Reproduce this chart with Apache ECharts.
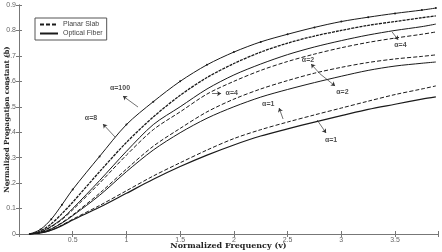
<!DOCTYPE html>
<html>
<head>
<meta charset="utf-8">
<script src="https://cdn.jsdelivr.net/npm/echarts@6/dist/echarts.min.js"></script>
<style>
  html, body { margin: 0; padding: 0; background: #fff; }
  #chart { width: 442px; height: 252px; }
</style>
</head>
<body>
<div id="chart"></div>
<script>
// normalized frequency v
const freq = [0.1, 0.2, 0.3, 0.4, 0.5, 0.75, 1.0, 1.25, 1.5, 1.75, 2.0, 2.25, 2.5, 2.75, 3.0, 3.25, 3.5, 3.75, 3.88];

// normalized propagation constant b
const alpha100 = [0, 0.018, 0.058, 0.115, 0.175, 0.305, 0.43, 0.52, 0.6, 0.665, 0.715, 0.755, 0.785, 0.812, 0.835, 0.852, 0.867, 0.88, 0.888];
const alpha8 = [0, 0.012, 0.04, 0.08, 0.125, 0.245, 0.36, 0.46, 0.545, 0.615, 0.67, 0.715, 0.75, 0.778, 0.8, 0.82, 0.835, 0.85, 0.857];
const alpha4Fiber = [0, 0.008, 0.03, 0.06, 0.1, 0.21, 0.325, 0.43, 0.5, 0.57, 0.625, 0.668, 0.705, 0.735, 0.76, 0.782, 0.8, 0.815, 0.825];
const alpha4Slab = [0, 0.007, 0.028, 0.057, 0.095, 0.2, 0.31, 0.41, 0.48, 0.55, 0.6, 0.643, 0.678, 0.707, 0.732, 0.753, 0.77, 0.785, 0.794];
const alpha2Slab = [0, 0.005, 0.02, 0.045, 0.075, 0.16, 0.255, 0.345, 0.415, 0.48, 0.53, 0.57, 0.603, 0.632, 0.655, 0.674, 0.688, 0.698, 0.704];
const alpha2Fiber = [0, 0.005, 0.02, 0.043, 0.072, 0.152, 0.245, 0.33, 0.398, 0.455, 0.5, 0.538, 0.568, 0.595, 0.62, 0.643, 0.66, 0.671, 0.676];
const alpha1Slab = [0, 0.004, 0.015, 0.035, 0.058, 0.112, 0.17, 0.228, 0.28, 0.33, 0.375, 0.41, 0.44, 0.468, 0.495, 0.522, 0.548, 0.57, 0.582];
const alpha1Fiber = [0, 0.004, 0.015, 0.033, 0.055, 0.105, 0.16, 0.215, 0.265, 0.31, 0.35, 0.385, 0.413, 0.44, 0.465, 0.49, 0.51, 0.53, 0.539];

// annotation labels: text, label position, arrow tail, arrow head (data coords)
const noteText = ['α=100', 'α=8', 'α=4', 'α=4', 'α=2', 'α=2', 'α=1', 'α=1'];
const notePos = [[0.94, 0.574], [0.67, 0.456], [1.98, 0.552], [3.55, 0.743], [2.69, 0.684], [3.01, 0.556], [2.32, 0.511], [2.905, 0.371]];
const arrowFrom = [[1.108, 0.499], [0.894, 0.381], [1.797, 0.552], [3.473, 0.794], [2.8, 0.63], [2.8, 0.63], [2.458, 0.452], [2.775, 0.448]];
const arrowTo = [[0.968, 0.542], [0.782, 0.432], [1.881, 0.552], [3.529, 0.763], [2.719, 0.668], [2.942, 0.582], [2.421, 0.495], [2.858, 0.397]];

const pairs = arr => freq.map((v, i) => [v, arr[i]]);

const lineSeries = (name, arr, type, extra) => Object.assign({
  name: name,
  type: 'line',
  data: pairs(arr),
  smooth: 0.3,
  symbol: 'none',
  itemStyle: { color: '#1a1a1a' },
  lineStyle: { color: '#1a1a1a', width: 1, type: type },
  silent: true,
  z: 3
}, extra || {});

const chart = echarts.init(document.getElementById('chart'));

const tickLabel = { color: '#666', fontSize: 7, fontFamily: 'Arial, Liberation Sans, sans-serif' };

const option = {
  animation: false,
  backgroundColor: '#fff',
  grid: { left: 19, right: 4, top: 5, bottom: 18, containLabel: false, outerBoundsMode: 'none' },
  legend: {
    orient: 'vertical',
    left: 35,
    top: 18,
    backgroundColor: '#fff',
    borderColor: '#555',
    borderWidth: 1,
    borderRadius: 0,
    padding: [3, 4, 3, 4],
    itemGap: 2,
    itemWidth: 18,
    itemHeight: 6,
    itemStyle: { opacity: 0 },
    textStyle: { color: '#444', fontSize: 7, fontFamily: 'Arial, Liberation Sans, sans-serif' },
    data: ['Planar Slab', 'Optical Fiber']
  },
  xAxis: [{
    type: 'value',
    min: 0,
    max: 3.9,
    interval: 0.5,
    name: 'Normalized Frequency (v)',
    nameLocation: 'middle',
    nameGap: 8,
    nameMoveOverlap: false,
    nameTextStyle: { fontFamily: 'DejaVu Serif, Liberation Serif, serif', fontWeight: 'bold', fontSize: 8, color: '#222' },
    axisLine: { lineStyle: { color: '#777' } },
    axisTick: { inside: true, length: 3, lineStyle: { color: '#777' } },
    axisLabel: Object.assign({ margin: 3, formatter: v => (v === 0 || Math.abs(v * 2 - Math.round(v * 2)) > 1e-6) ? '' : String(v) }, tickLabel),
    splitLine: { show: false }
  }, {
    type: 'value',
    position: 'top',
    min: 0,
    max: 3.9,
    interval: 0.5,
    axisLine: { show: true, lineStyle: { color: '#777' } },
    axisTick: { inside: true, length: 3, lineStyle: { color: '#777' } },
    axisLabel: { show: false },
    splitLine: { show: false }
  }],
  yAxis: [{
    type: 'value',
    min: 0,
    max: 0.9,
    interval: 0.1,
    name: 'Normalized Propagation constant (b)',
    nameLocation: 'middle',
    nameGap: 8,
    nameMoveOverlap: false,
    nameTextStyle: { fontFamily: 'DejaVu Serif, Liberation Serif, serif', fontWeight: 'bold', fontSize: 7, color: '#222' },
    axisLine: { show: true, lineStyle: { color: '#777' } },
    axisTick: { show: true, inside: true, length: 3, lineStyle: { color: '#777' } },
    axisLabel: Object.assign({ margin: 3, formatter: v => v === 0 ? '0' : v.toFixed(1) }, tickLabel),
    splitLine: { show: false }
  }, {
    type: 'value',
    position: 'right',
    min: 0,
    max: 0.9,
    interval: 0.1,
    axisLine: { show: true, lineStyle: { color: '#777' } },
    axisTick: { show: true, inside: true, length: 3, lineStyle: { color: '#777' } },
    axisLabel: { show: false },
    splitLine: { show: false }
  }],
  series: [
    lineSeries('Planar Slab', alpha4Slab, [4, 2]),
    lineSeries('Optical Fiber', alpha4Fiber, 'solid'),
    lineSeries('α=100', alpha100, 'solid', {
      symbol: 'circle', symbolSize: 2, showSymbol: true
    }),
    lineSeries('α=8', alpha8, [3, 1], { lineStyle: { color: '#1a1a1a', width: 1.3, type: [3, 1] } }),
    lineSeries('α=2 slab', alpha2Slab, [4, 2]),
    lineSeries('α=2 fiber', alpha2Fiber, 'solid'),
    lineSeries('α=1 slab', alpha1Slab, [4, 2]),
    lineSeries('α=1 fiber', alpha1Fiber, 'solid', { lineStyle: { color: '#1a1a1a', width: 1.2, type: 'solid' } }),
    {
      name: 'notes',
      type: 'scatter',
      silent: true,
      symbolSize: 0,
      data: notePos.map((p, i) => ({ value: p, name: noteText[i] })),
      label: {
        show: true,
        position: 'inside',
        formatter: p => p.name,
        color: '#222',
        fontSize: 7,
        fontWeight: 'bold',
        fontFamily: 'Arial, Liberation Sans, sans-serif'
      },
      markLine: {
        silent: true,
        symbol: ['none', 'arrow'],
        symbolSize: 4,
        label: { show: false },
        lineStyle: { color: '#333', width: 0.7, type: 'solid' },
        data: arrowFrom.map((f, i) => [{ coord: f }, { coord: arrowTo[i] }])
      }
    }
  ]
};

chart.setOption(option);
</script>
</body>
</html>
